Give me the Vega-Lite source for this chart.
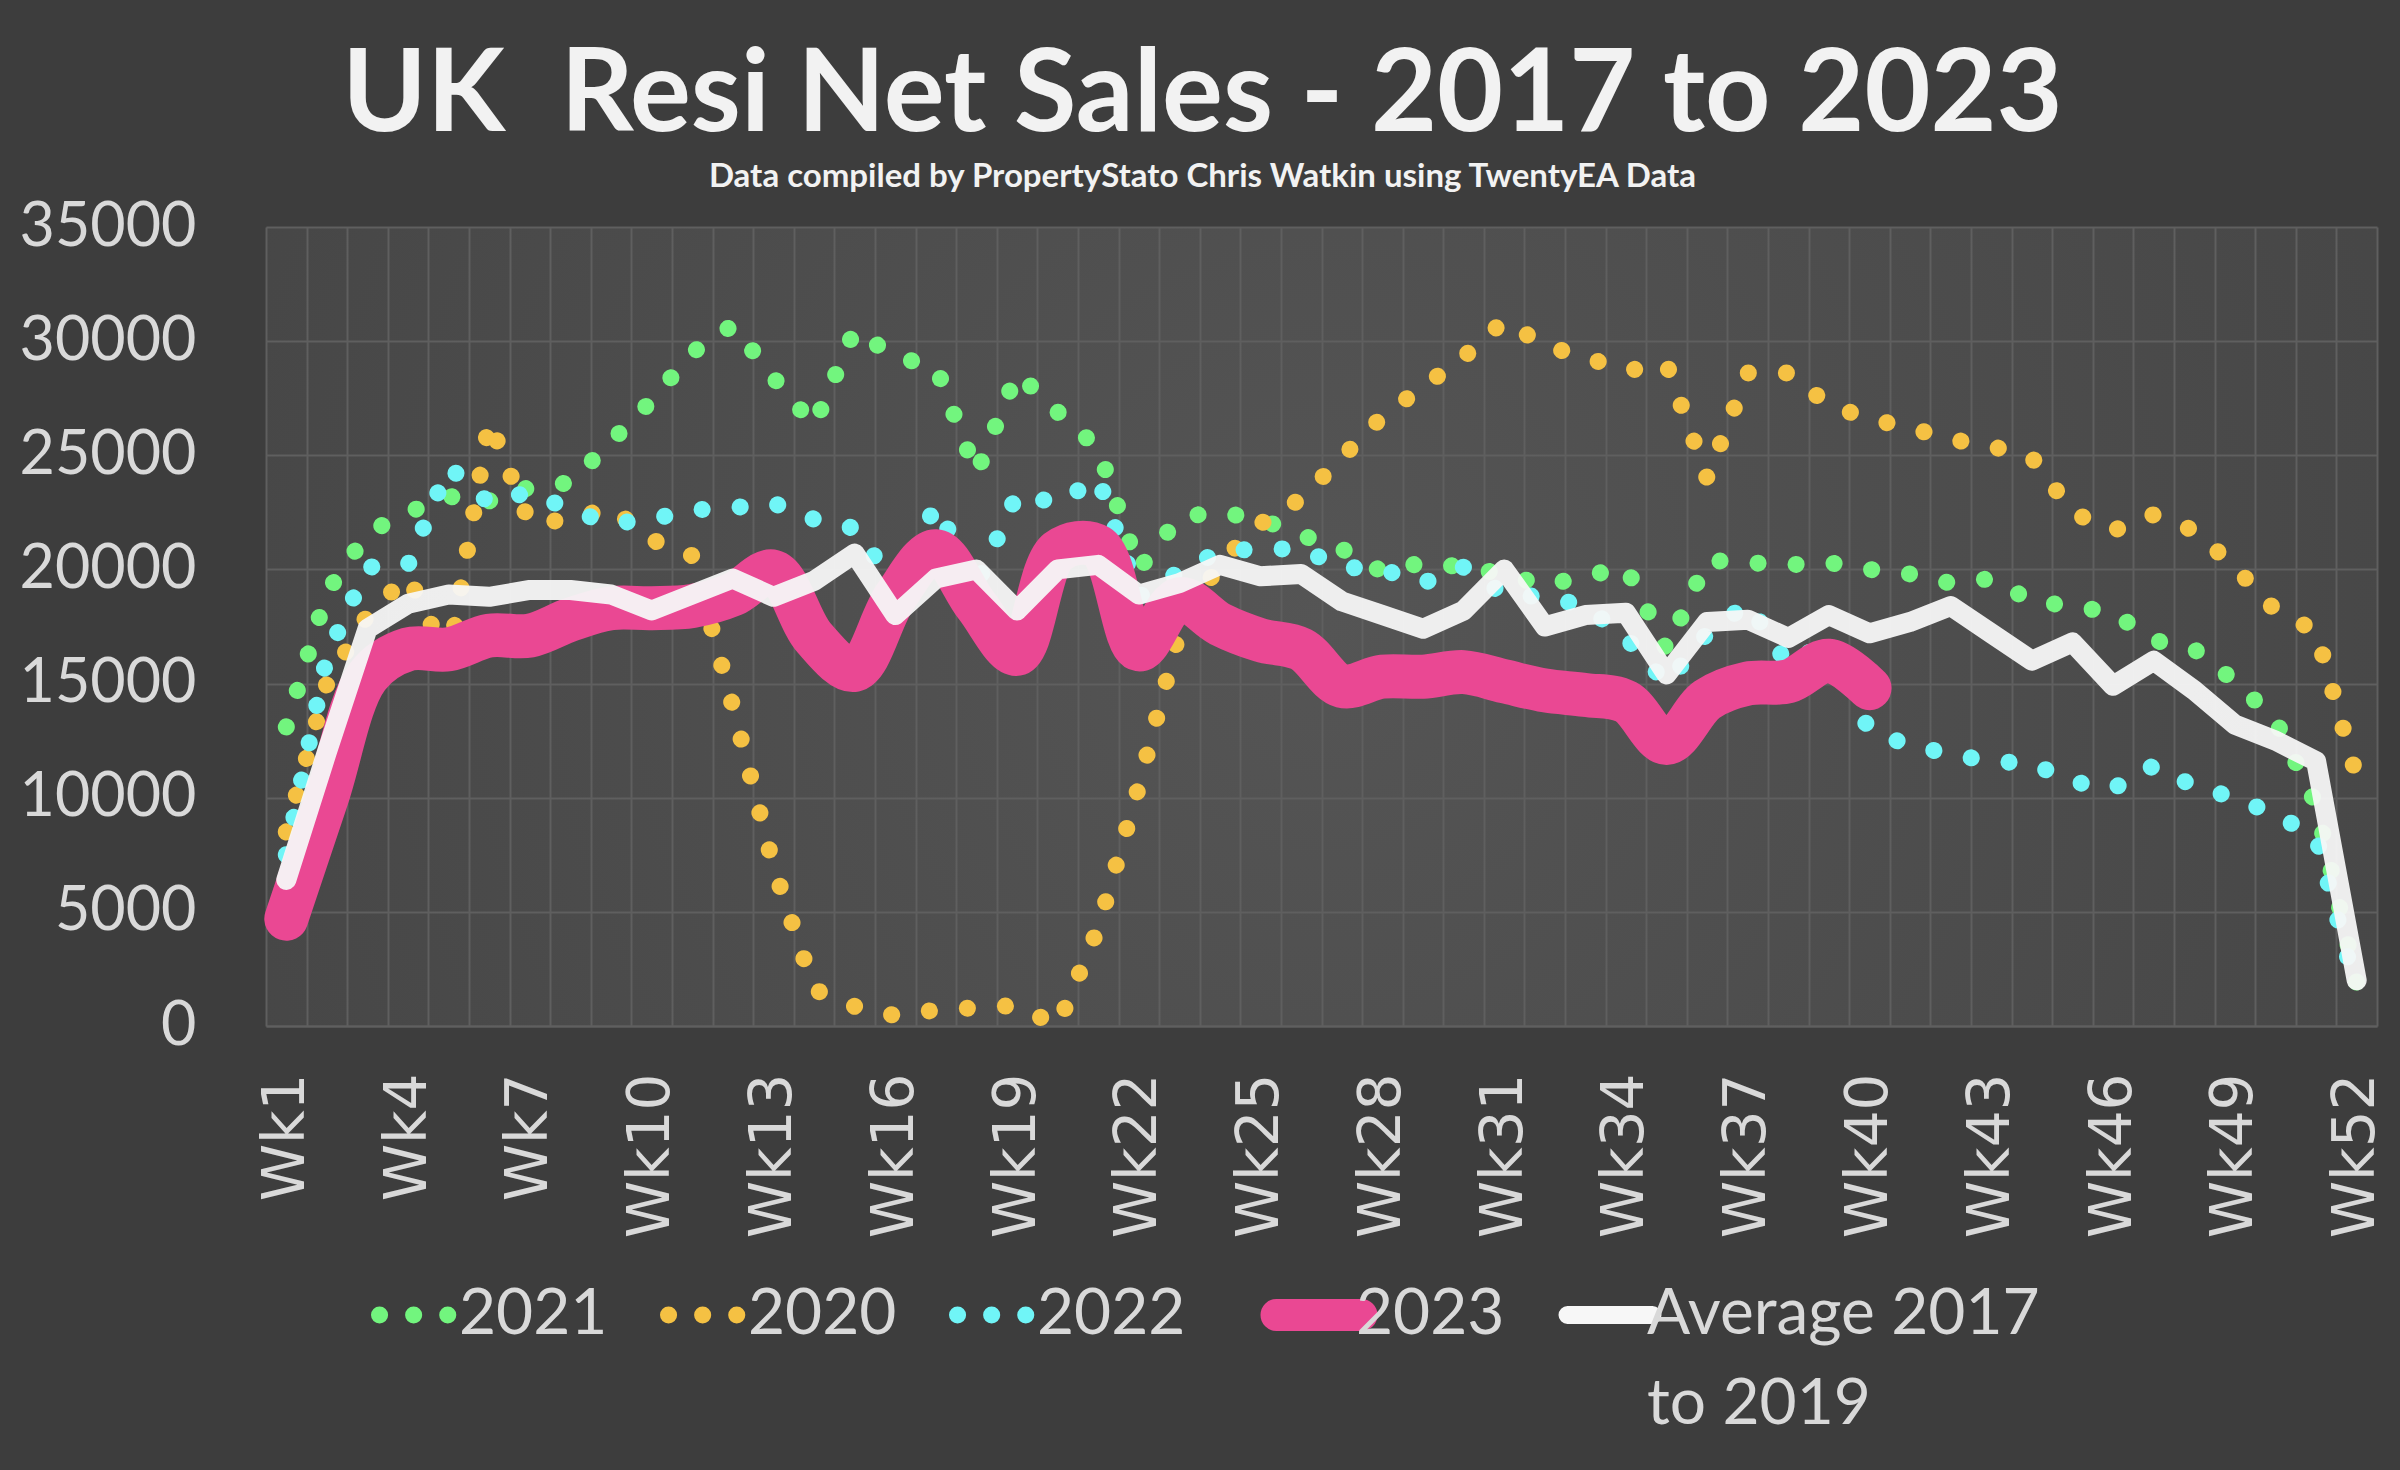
{
  "$schema": "https://vega.github.io/schema/vega-lite/v6.json",
  "width": 2111,
  "height": 799,
  "autosize": {"type": "none"},
  "padding": {"left": 266, "top": 227, "right": 23, "bottom": 444},
  "background": "#3d3d3d",
  "config": {
    "font": "Lato",
    "view": {
      "stroke": null,
      "fill": {
        "gradient": "radial",
        "x1": 0.5, "y1": 0.5, "x2": 0.5, "y2": 0.5, "r1": 0, "r2": 0.75,
        "stops": [{"offset": 0, "color": "#555555"}, {"offset": 1, "color": "#414141"}]
      }
    }
  },
  "title": {
    "text": "UK\u00a0 Resi Net Sales - 2017 to 2023",
    "subtitle": "Data compiled by PropertyStato Chris Watkin using TwentyEA Data",
    "anchor": "middle",
    "frame": "group",
    "dx": -119,
    "offset": 1,
    "font": "Lato",
    "fontWeight": "bold",
    "fontSize": 114,
    "color": "#f2f2f2",
    "subtitleFont": "Lato",
    "subtitleFontWeight": "bold",
    "subtitleFontSize": 33,
    "subtitleColor": "#f2f2f2",
    "subtitlePadding": 6
  },
  "data": {
    "values": [
      {"week": 1, "y2021": 13100, "y2020": 8500, "y2022": 7500, "y2023": 4700, "avg": 6400},
      {"week": 2, "y2021": 19000, "y2020": 15000, "y2022": 16200, "y2023": 10000, "avg": 12000},
      {"week": 3, "y2021": 21600, "y2020": 18000, "y2022": 20100, "y2023": 15300, "avg": 17400},
      {"week": 4, "y2021": 22500, "y2020": 19700, "y2022": 20200, "y2023": 16500, "avg": 18500},
      {"week": 5, "y2021": 23200, "y2020": 16000, "y2022": 24500, "y2023": 16500, "avg": 18900},
      {"week": 6, "y2021": 23000, "y2020": 26500, "y2022": 22900, "y2023": 17100, "avg": 18800},
      {"week": 7, "y2021": 23600, "y2020": 22000, "y2022": 23400, "y2023": 17100, "avg": 19100},
      {"week": 8, "y2021": 23800, "y2020": 22200, "y2022": 22600, "y2023": 17800, "avg": 19100},
      {"week": 9, "y2021": 25600, "y2020": 22700, "y2022": 22000, "y2023": 18300, "avg": 18900},
      {"week": 10, "y2021": 27400, "y2020": 21300, "y2022": 22200, "y2023": 18300, "avg": 18200},
      {"week": 11, "y2021": 29500, "y2020": 20600, "y2022": 22600, "y2023": 18400, "avg": 18900},
      {"week": 12, "y2021": 30700, "y2020": 14000, "y2022": 22700, "y2023": 18900, "avg": 19600},
      {"week": 13, "y2021": 28400, "y2020": 7000, "y2022": 22900, "y2023": 19900, "avg": 18800},
      {"week": 14, "y2021": 26300, "y2020": 1600, "y2022": 22200, "y2023": 17000, "avg": 19500},
      {"week": 15, "y2021": 30500, "y2020": 860, "y2022": 21800, "y2023": 15600, "avg": 20700},
      {"week": 16, "y2021": 29300, "y2020": 460, "y2022": 19300, "y2023": 18800, "avg": 18000},
      {"week": 17, "y2021": 28900, "y2020": 700, "y2022": 22800, "y2023": 20800, "avg": 19600},
      {"week": 18, "y2021": 24200, "y2020": 800, "y2022": 19300, "y2023": 18400, "avg": 20000},
      {"week": 19, "y2021": 28600, "y2020": 900, "y2022": 23300, "y2023": 16300, "avg": 18200},
      {"week": 20, "y2021": 26900, "y2020": 0, "y2022": 22900, "y2023": 20800, "avg": 20000},
      {"week": 21, "y2021": 25300, "y2020": 4300, "y2022": 24000, "y2023": 21000, "avg": 20200},
      {"week": 22, "y2021": 20000, "y2020": 10500, "y2022": 18800, "y2023": 16500, "avg": 18900},
      {"week": 23, "y2021": 22300, "y2020": 17300, "y2022": 19900, "y2023": 18700, "avg": 19400},
      {"week": 24, "y2021": 22500, "y2020": 20300, "y2022": 20800, "y2023": 17600, "avg": 20200},
      {"week": 25, "y2021": 22200, "y2020": 22000, "y2022": 20900, "y2023": 16900, "avg": 19700},
      {"week": 26, "y2021": 21500, "y2020": 23100, "y2022": 20900, "y2023": 16500, "avg": 19800},
      {"week": 27, "y2021": 20900, "y2020": 24900, "y2022": 20100, "y2023": 14900, "avg": 18600},
      {"week": 28, "y2021": 19900, "y2020": 26700, "y2022": 20000, "y2023": 15300, "avg": 18000},
      {"week": 29, "y2021": 20300, "y2020": 28000, "y2022": 19400, "y2023": 15300, "avg": 17400},
      {"week": 30, "y2021": 20100, "y2020": 29300, "y2022": 20100, "y2023": 15500, "avg": 18200},
      {"week": 31, "y2021": 19800, "y2020": 30900, "y2022": 18900, "y2023": 15100, "avg": 20000},
      {"week": 32, "y2021": 19300, "y2020": 29800, "y2022": 18800, "y2023": 14700, "avg": 17500},
      {"week": 33, "y2021": 19700, "y2020": 29300, "y2022": 18400, "y2023": 14500, "avg": 18000},
      {"week": 34, "y2021": 20100, "y2020": 28700, "y2022": 17000, "y2023": 14200, "avg": 18100},
      {"week": 35, "y2021": 16500, "y2020": 29000, "y2022": 15000, "y2023": 12400, "avg": 15400},
      {"week": 36, "y2021": 20400, "y2020": 24000, "y2022": 17200, "y2023": 14300, "avg": 17700},
      {"week": 37, "y2021": 20300, "y2020": 28600, "y2022": 18500, "y2023": 15000, "avg": 17800},
      {"week": 38, "y2021": 20200, "y2020": 28600, "y2022": 15800, "y2023": 15100, "avg": 17000},
      {"week": 39, "y2021": 20300, "y2020": 27200, "y2022": 16900, "y2023": 16000, "avg": 18000},
      {"week": 40, "y2021": 20000, "y2020": 26600, "y2022": 12900, "y2023": 14800, "avg": 17200},
      {"week": 41, "y2021": 19800, "y2020": 26200, "y2022": 12300, "y2023": null, "avg": 17700},
      {"week": 42, "y2021": 19400, "y2020": 25700, "y2022": 11900, "y2023": null, "avg": 18400},
      {"week": 43, "y2021": 19600, "y2020": 25400, "y2022": 11600, "y2023": null, "avg": 17200},
      {"week": 44, "y2021": 18600, "y2020": 24900, "y2022": 11500, "y2023": null, "avg": 16000},
      {"week": 45, "y2021": 18400, "y2020": 22500, "y2022": 10700, "y2023": null, "avg": 16800},
      {"week": 46, "y2021": 18100, "y2020": 21700, "y2022": 10400, "y2023": null, "avg": 14900},
      {"week": 47, "y2021": 16900, "y2020": 22400, "y2022": 11400, "y2023": null, "avg": 16000},
      {"week": 48, "y2021": 16500, "y2020": 21700, "y2022": 10500, "y2023": null, "avg": 14700},
      {"week": 49, "y2021": 15100, "y2020": 20100, "y2022": 10000, "y2023": null, "avg": 13200},
      {"week": 50, "y2021": 13400, "y2020": 18200, "y2022": 9250, "y2023": null, "avg": 12500},
      {"week": 51, "y2021": 9700, "y2020": 17300, "y2022": 8300, "y2023": null, "avg": 11600},
      {"week": 52, "y2021": 1900, "y2020": 10900, "y2022": 1500, "y2023": null, "avg": 2000}
    ]
  },
  "transform": [
    {"fold": ["y2021", "y2020", "y2022", "y2023", "avg"], "as": ["series", "value"]},
    {"filter": "isValid(datum.value)"}
  ],
  "encoding": {
    "y": {
      "field": "value",
      "type": "quantitative",
      "scale": {"domain": [0, 35000], "nice": false},
      "axis": {
        "title": null,
        "values": [0, 5000, 10000, 15000, 20000, 25000, 30000, 35000],
        "format": "d",
        "domain": false,
        "ticks": false,
        "grid": true,
        "gridColor": "#5f5f5f",
        "gridWidth": 2,
        "labelFont": "Lato",
        "labelFontSize": 61,
        "labelColor": "#d9d9d9",
        "labelPadding": 70
      }
    },
    "color": {
      "field": "series",
      "type": "nominal",
      "scale": {
        "domain": ["y2021", "y2020", "y2022", "y2023", "avg"],
        "range": ["#72f57e", "#f5c143", "#70f5f7", "#ea4893", "#f7f7f7"]
      },
      "legend": {
        "orient": "none",
        "legendX": 124,
        "legendY": 1056,
        "direction": "horizontal",
        "columns": 5,
        "title": null,
        "padding": 0,
        "symbolType": "stroke",
        "symbolSize": 7225,
        "columnPadding": 26,
        "labelOffset": 5,
        "labelFont": "Lato",
        "labelFontSize": 64,
        "labelColor": "#d9d9d9",
        "labelLimit": 0,
        "labelExpr": "datum.value == 'avg' ? ['Average 2017', 'to 2019'] : [substring(datum.value, 1), '']",
        "encode": {
          "symbols": {
            "update": {
              "strokeCap": {"value": "round"},
              "strokeDash": {"signal": "datum.value == 'y2023' || datum.value == 'avg' ? [1, 0] : [0.1, 34]"},
              "strokeWidth": {"signal": "datum.value == 'y2023' ? 32 : datum.value == 'avg' ? 18 : 17"},
              "opacity": {"value": 1}
            }
          },
          "labels": {
            "update": {
              "lineHeight": {"value": 90}
            }
          }
        }
      }
    }
  },
  "layer": [
    {
      "transform": [{"filter": "datum.series == 'y2021'"}],
      "mark": {"type": "line", "strokeWidth": 17, "strokeDash": [0.1, 38], "strokeCap": "round"},
      "encoding": {
        "x": {
          "field": "week",
          "type": "quantitative",
          "scale": {"domain": [0.5, 52.5], "nice": false, "zero": false},
          "axis": {
            "orient": "bottom",
            "title": null,
            "values": [0.5, 1.5, 2.5, 3.5, 4.5, 5.5, 6.5, 7.5, 8.5, 9.5, 10.5, 11.5, 12.5, 13.5, 14.5, 15.5, 16.5, 17.5, 18.5, 19.5, 20.5, 21.5, 22.5, 23.5, 24.5, 25.5, 26.5, 27.5, 28.5, 29.5, 30.5, 31.5, 32.5, 33.5, 34.5, 35.5, 36.5, 37.5, 38.5, 39.5, 40.5, 41.5, 42.5, 43.5, 44.5, 45.5, 46.5, 47.5, 48.5, 49.5, 50.5, 51.5, 52.5],
            "labels": false,
            "ticks": false,
            "domain": true,
            "domainColor": "#5f5f5f",
            "domainWidth": 2,
            "grid": true,
            "gridColor": "#5f5f5f",
            "gridWidth": 2
          }
        }
      }
    },
    {
      "transform": [{"filter": "datum.series == 'y2020'"}],
      "mark": {"type": "line", "strokeWidth": 17, "strokeDash": [0.1, 38], "strokeCap": "round"},
      "encoding": {
        "x": {
          "field": "week",
          "type": "quantitative",
          "scale": {"domain": [0.5, 52.5], "nice": false, "zero": false},
          "axis": {
            "orient": "bottom",
            "title": null,
            "values": [1, 4, 7, 10, 13, 16, 19, 22, 25, 28, 31, 34, 37, 40, 43, 46, 49, 52],
            "labelExpr": "'Wk' + datum.value",
            "labelAngle": -90,
            "labelFont": "DejaVu Sans",
            "labelFontSize": 58,
            "labelColor": "#d9d9d9",
            "labelPadding": 47,
            "labelOverlap": false,
            "labelFlush": false,
            "ticks": false,
            "domain": false,
            "grid": false
          }
        }
      }
    },
    {
      "transform": [{"filter": "datum.series == 'y2022'"}],
      "mark": {"type": "line", "strokeWidth": 17, "strokeDash": [0.1, 38], "strokeCap": "round"},
      "encoding": {
        "x": {"field": "week", "type": "quantitative", "scale": {"domain": [0.5, 52.5], "nice": false, "zero": false}, "axis": null}
      }
    },
    {
      "transform": [{"filter": "datum.series == 'y2023'"}],
      "mark": {"type": "line", "strokeWidth": 44, "strokeCap": "round", "strokeJoin": "round", "interpolate": "catmull-rom"},
      "encoding": {
        "x": {"field": "week", "type": "quantitative", "scale": {"domain": [0.5, 52.5], "nice": false, "zero": false}, "axis": null}
      }
    },
    {
      "transform": [{"filter": "datum.series == 'avg'"}],
      "mark": {"type": "line", "strokeWidth": 20, "strokeCap": "round", "strokeJoin": "round", "opacity": 0.95},
      "encoding": {
        "x": {"field": "week", "type": "quantitative", "scale": {"domain": [0.5, 52.5], "nice": false, "zero": false}, "axis": null}
      }
    }
  ],
  "resolve": {"axis": {"x": "independent"}}
}
